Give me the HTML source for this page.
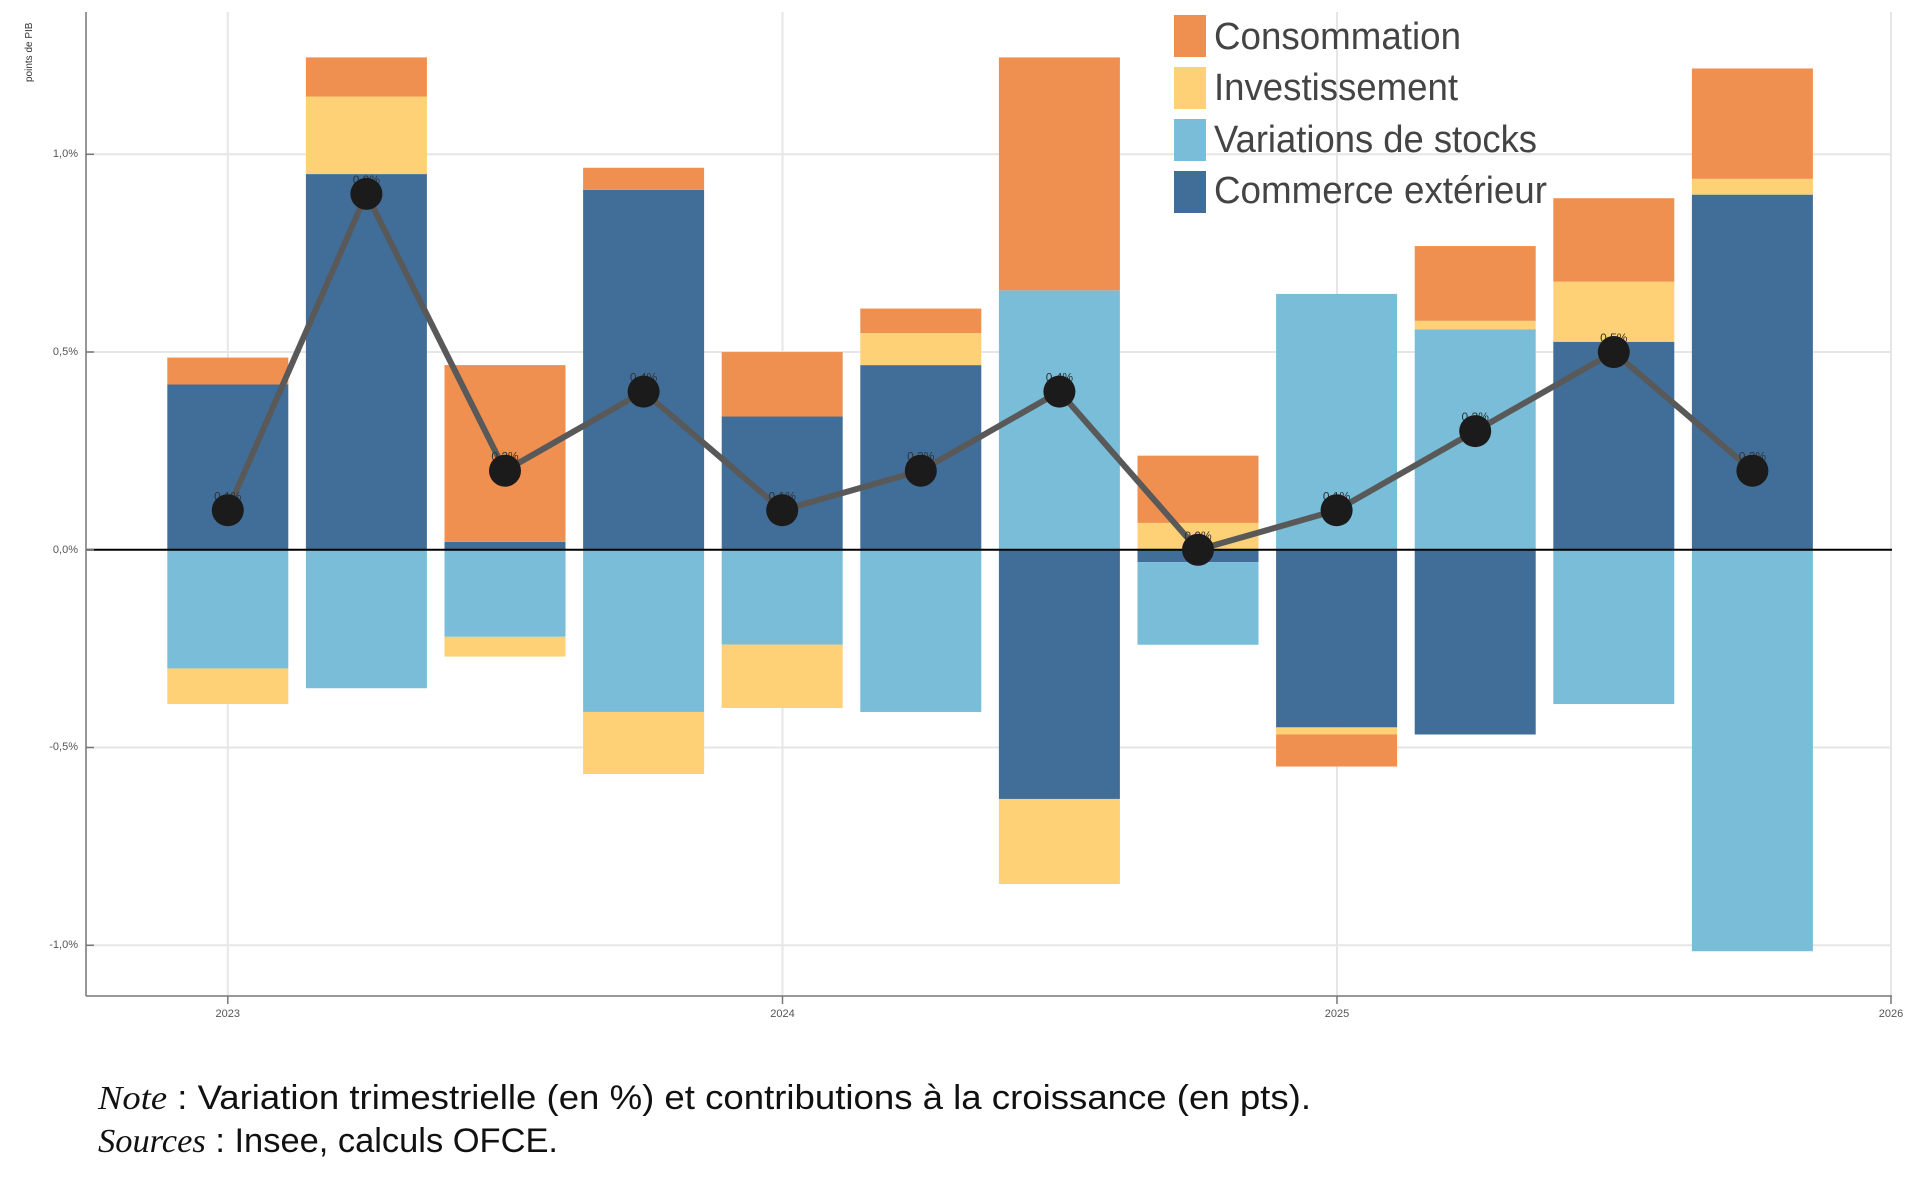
<!DOCTYPE html>
<html><head><meta charset="utf-8"><style>
html,body{margin:0;padding:0;background:#fff;width:1920px;height:1200px;overflow:hidden}
svg{display:block}
</style></head><body>
<svg width="1920" height="1200" viewBox="0 0 1920 1200" xmlns="http://www.w3.org/2000/svg" font-family="Liberation Sans, sans-serif">
<g stroke="#e6e6e6" stroke-width="2">
<line x1="86" y1="154.3" x2="1892" y2="154.3"/>
<line x1="86" y1="352" x2="1892" y2="352"/>
<line x1="86" y1="747.5" x2="1892" y2="747.5"/>
<line x1="86" y1="945.3" x2="1892" y2="945.3"/>
<line x1="227.8" y1="12" x2="227.8" y2="996"/>
<line x1="782.5" y1="12" x2="782.5" y2="996"/>
<line x1="1337" y1="12" x2="1337" y2="996"/>
<line x1="1891" y1="12" x2="1891" y2="996"/>
</g>
<g id="bars"></g>
<line x1="86" y1="549.8" x2="1892" y2="549.8" stroke="#000" stroke-width="2"/>
<g stroke="#777" stroke-width="1.5" fill="none">
<line x1="86" y1="12" x2="86" y2="996"/>
<line x1="86" y1="996" x2="1892" y2="996"/>
<line x1="86" y1="154.3" x2="94" y2="154.3"/><line x1="86" y1="352" x2="94" y2="352"/><line x1="86" y1="549.8" x2="94" y2="549.8"/><line x1="86" y1="747.5" x2="94" y2="747.5"/><line x1="86" y1="945.3" x2="94" y2="945.3"/>
<line x1="227.8" y1="996" x2="227.8" y2="1004"/><line x1="782.5" y1="996" x2="782.5" y2="1004"/><line x1="1337" y1="996" x2="1337" y2="1004"/><line x1="1891" y1="996" x2="1891" y2="1004"/>
</g>
<g font-size="11" fill="#555" text-anchor="end">
<text x="78" y="157">1,0%</text><text x="78" y="355">0,5%</text><text x="78" y="553">0,0%</text><text x="78" y="750">-0,5%</text><text x="78" y="948">-1,0%</text>
</g>
<g font-size="11" fill="#555" text-anchor="middle">
<text x="227.8" y="1017">2023</text><text x="782.5" y="1017">2024</text><text x="1337" y="1017">2025</text><text x="1891" y="1017">2026</text>
</g>
<text transform="translate(32,82) rotate(-90)" font-size="10" fill="#333">points de PIB</text>
<g id="line"></g>
<g font-size="38" fill="#444">
<rect x="1174" y="15" width="32" height="42" fill="#EF9051"/><text x="1214" y="49" textLength="247" lengthAdjust="spacingAndGlyphs">Consommation</text>
<rect x="1174" y="67" width="32" height="42" fill="#FED176"/><text x="1214" y="100" textLength="244" lengthAdjust="spacingAndGlyphs">Investissement</text>
<rect x="1174" y="119" width="32" height="42" fill="#79BDD8"/><text x="1214" y="152" textLength="323" lengthAdjust="spacingAndGlyphs">Variations de stocks</text>
<rect x="1174" y="171" width="32" height="42" fill="#416E98"/><text x="1214" y="203" textLength="333" lengthAdjust="spacingAndGlyphs">Commerce extérieur</text>
</g>
<g font-size="34" fill="#111">
<text x="98" y="1109" textLength="1213" lengthAdjust="spacingAndGlyphs"><tspan font-family="Liberation Serif, serif" font-style="italic">Note</tspan> : Variation trimestrielle (en %) et contributions à la croissance (en pts).</text>
<text x="98" y="1152" textLength="460" lengthAdjust="spacingAndGlyphs"><tspan font-family="Liberation Serif, serif" font-style="italic">Sources</tspan> : Insee, calculs OFCE.</text>
</g>
</svg>
<script>
var d=[
[0.418,-0.30,-0.09,0.068,0.1],
[0.95,-0.35,0.196,0.099,0.9],
[0.02,-0.22,-0.05,0.447,0.2],
[0.91,-0.41,-0.157,0.056,0.4],
[0.337,-0.24,-0.16,0.163,0.1],
[0.467,-0.41,0.081,0.062,0.2],
[-0.63,0.656,-0.215,0.589,0.4],
[-0.031,-0.209,0.068,0.17,0],
[-0.449,0.647,-0.018,-0.081,0.1],
[-0.467,0.557,0.022,0.189,0.3],
[0.526,-0.39,0.152,0.211,0.5],
[0.898,-1.015,0.04,0.279,0.2]];
var cols=["#416E98","#79BDD8","#FED176","#EF9051"];
function Y(v){return 549.8-395.5*v;}
var ns="http://www.w3.org/2000/svg",g=document.getElementById("bars"),lg=document.getElementById("line");
var pts=[];
d.forEach(function(r,i){
 var cx=227.8+138.6*i,pos=0,neg=0;
 for(var k=0;k<4;k++){var v=r[k],a,b;
  if(v>=0){a=pos;b=pos+v;pos=b;}else{a=neg;b=neg+v;neg=b;}
  var y1=Y(Math.max(a,b)),y2=Y(Math.min(a,b));
  var re=document.createElementNS(ns,"rect");
  re.setAttribute("x",cx-60.5);re.setAttribute("width",121);re.setAttribute("y",y1);re.setAttribute("height",y2-y1);re.setAttribute("fill",cols[k]);g.appendChild(re);}
 pts.push([cx,Y(r[4])]);
});
var pl=document.createElementNS(ns,"polyline");
pl.setAttribute("points",pts.map(function(p){return p.join(",")}).join(" "));
pl.setAttribute("fill","none");pl.setAttribute("stroke","#595959");pl.setAttribute("stroke-width","6");lg.appendChild(pl);
pts.forEach(function(p,i){
 var t=document.createElementNS(ns,"text");t.setAttribute("x",p[0]);t.setAttribute("y",p[1]-10);t.setAttribute("font-size","12");t.setAttribute("fill","#333");t.setAttribute("text-anchor","middle");t.textContent=d[i][4].toFixed(1)+"%";lg.appendChild(t);
 var c=document.createElementNS(ns,"circle");c.setAttribute("cx",p[0]);c.setAttribute("cy",p[1]);c.setAttribute("r",16);c.setAttribute("fill","#1b1b1b");lg.appendChild(c);
});
</script>
</body></html>
